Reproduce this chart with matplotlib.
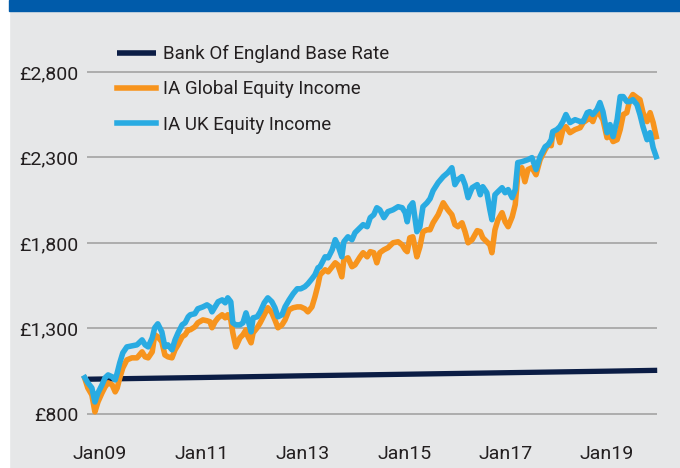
import matplotlib
matplotlib.use('Agg')
import matplotlib.pyplot as plt
from matplotlib.patches import Rectangle

plt.rcParams['font.family'] = ['Roboto', 'DejaVu Sans']

# growth of £1,000
years = [2008.70, 2008.76, 2008.84, 2008.90, 2008.96, 2009.04, 2009.10, 2009.16, 2009.24, 2009.30,
         2009.34, 2009.39, 2009.45, 2009.53, 2009.63, 2009.73, 2009.83, 2009.89, 2009.95, 2010.03,
         2010.08, 2010.14, 2010.22, 2010.28, 2010.34, 2010.42, 2010.48, 2010.54, 2010.62, 2010.68,
         2010.74,
         2010.78, 2010.87, 2010.93, 2011.03, 2011.11, 2011.17, 2011.21, 2011.27, 2011.33, 2011.41,
         2011.47, 2011.52, 2011.58, 2011.62, 2011.68, 2011.76, 2011.82, 2011.88, 2011.92, 2011.98,
         2012.02, 2012.10, 2012.16, 2012.24, 2012.31, 2012.39, 2012.45, 2012.51, 2012.59, 2012.65,
         2012.73, 2012.81, 2012.89, 2012.96, 2013.04, 2013.10, 2013.18, 2013.24, 2013.30,
         2013.34, 2013.44, 2013.50, 2013.58, 2013.64, 2013.69, 2013.77, 2013.81, 2013.89, 2013.97,
         2014.03, 2014.13, 2014.19, 2014.27, 2014.33, 2014.40, 2014.46, 2014.52, 2014.60, 2014.68,
         2014.78, 2014.88, 2014.96, 2015.02, 2015.06, 2015.11, 2015.17, 2015.25, 2015.31, 2015.37,
         2015.45,
         2015.51, 2015.57, 2015.67, 2015.77, 2015.86, 2015.94, 2016.00, 2016.06, 2016.14, 2016.20,
         2016.26, 2016.34, 2016.44, 2016.50, 2016.55, 2016.63, 2016.69, 2016.73, 2016.79, 2016.85,
         2016.93, 2016.99, 2017.05, 2017.13, 2017.19, 2017.24, 2017.32, 2017.38, 2017.44, 2017.52,
         2017.60, 2017.68, 2017.78, 2017.84,
         2017.90, 2017.93, 2018.01, 2018.07, 2018.13, 2018.19, 2018.27, 2018.37, 2018.47, 2018.53,
         2018.61, 2018.66, 2018.72, 2018.80, 2018.86, 2018.92, 2019.00, 2019.06, 2019.12, 2019.20,
         2019.26, 2019.32, 2019.39, 2019.45, 2019.51, 2019.59, 2019.65, 2019.71, 2019.79, 2019.85,
         2019.91, 2019.97]

uk_income = [1012, 982, 952, 870, 923, 970, 1011, 1028, 1017, 999,
             1040, 1099, 1157, 1192, 1198, 1204, 1233, 1204, 1192, 1245,
             1304, 1327, 1280, 1192, 1204, 1175, 1233, 1274, 1321, 1333,
             1368,
             1380, 1386, 1415, 1426, 1438, 1426, 1397, 1426, 1456, 1467,
             1450, 1479, 1456, 1333, 1321, 1321, 1333, 1391, 1350, 1280,
             1362, 1368, 1397, 1450, 1479, 1456, 1421, 1368, 1380, 1426,
             1467, 1503, 1532, 1532, 1544, 1561, 1590, 1614, 1655,
             1661, 1719, 1713, 1760, 1819, 1789, 1719, 1807, 1836, 1819,
             1860, 1889, 1907, 1895, 1948, 1965, 2006, 1994, 1948, 1983,
             1994, 2012, 2006, 1977, 1924, 2012, 2035, 1866, 1895, 2012,
             2035,
             2059, 2106, 2153, 2188, 2211, 2240, 2141, 2170, 2188, 2141,
             2065, 2123, 2141, 2082, 2129, 2094, 1994, 1936, 2082, 2100,
             2123, 2094, 2112, 2065, 2112, 2270, 2275, 2281, 2287, 2299,
             2229, 2305, 2363, 2375,
             2404, 2451, 2463, 2480, 2510, 2551, 2504, 2521, 2510, 2510,
             2562, 2568, 2551, 2580, 2621, 2568, 2445, 2492, 2422, 2521,
             2656, 2656, 2627, 2627, 2638, 2609, 2551, 2480, 2404, 2445,
             2357, 2305]

global_income = [1008, 952, 911, 812, 870, 923, 958, 982, 970, 929,
                 952, 1011, 1069, 1116, 1128, 1128, 1163, 1134, 1128, 1163,
                 1263, 1251, 1222, 1145, 1134, 1128, 1175, 1204, 1251, 1263,
                 1292,
                 1292, 1309, 1333, 1350, 1345, 1339, 1304, 1339, 1362, 1380,
                 1362, 1380, 1350, 1274, 1192, 1245, 1263, 1292, 1251, 1216,
                 1274, 1304, 1333, 1380, 1421, 1391, 1350, 1304, 1321, 1350,
                 1409, 1421, 1426, 1426, 1415, 1397, 1426, 1485, 1555,
                 1614, 1643, 1631, 1661, 1684, 1672, 1602, 1702, 1713, 1661,
                 1672, 1719, 1743, 1719, 1749, 1743, 1684, 1743, 1760, 1772,
                 1801, 1807, 1789, 1760, 1749, 1830, 1836, 1719, 1778, 1866,
                 1877,
                 1877, 1918, 1965, 2035, 1994, 1965, 1907, 1895, 1918, 1866,
                 1801, 1819, 1872, 1866, 1830, 1807, 1789, 1743, 1877, 1936,
                 1977, 1924, 1895, 1953, 2024, 2199, 2240, 2158, 2229, 2240,
                 2199, 2287, 2346, 2375,
                 2369, 2445, 2451, 2387, 2463, 2480, 2445, 2463, 2474, 2504,
                 2521, 2533, 2510, 2574, 2551, 2521, 2416, 2434, 2393, 2404,
                 2463, 2551, 2562, 2638, 2668, 2650, 2638, 2562, 2510, 2562,
                 2504, 2422]

boe_years = [2008.76, 2011.0, 2013.0, 2015.0, 2017.0, 2019.0, 2019.99]
boe_rate = [1003, 1013, 1023, 1032, 1041, 1050, 1055]

y_ticks = [800, 1300, 1800, 2300, 2800]
x_ticks = [2009, 2011, 2013, 2015, 2017, 2019]
x_labels = ['Jan09', 'Jan11', 'Jan13', 'Jan15', 'Jan17', 'Jan19']

bg = '#e6e7e8'
navy = '#0b1d45'
orange = '#f7941d'
blue = '#29abe2'
text_col = '#231f20'

W, H = 680, 468
fig = plt.figure(figsize=(W / 100, H / 100), dpi=100, facecolor=bg)
# white strip on the left and blue band on top
fig.add_artist(Rectangle((0, 0), 9 / W, 1, transform=fig.transFigure, color='white', zorder=0))
fig.add_artist(Rectangle((9 / W, 1 - 11 / H), 1, 11 / H, transform=fig.transFigure,
                         color='#005baa', zorder=0))

ax = fig.add_axes([87 / W, (H - 430) / H, 570 / W, 390 / H])
ax.set_facecolor(bg)
ax.set_xlim(2008.744, 2019.986)
ax.set_ylim(706, 2987)

ax.plot(boe_years, boe_rate, color=navy, lw=3.8, solid_capstyle='butt',
        label='Bank Of England Base Rate', zorder=3, clip_on=False)
ax.plot(years, global_income, color=orange, lw=4, solid_joinstyle='round',
        label='IA Global Equity Income', zorder=4, clip_on=False)
ax.plot(years, uk_income, color=blue, lw=4, solid_joinstyle='round',
        label='IA UK Equity Income', zorder=5, clip_on=False)

ax.set_yticks(y_ticks)
ax.set_yticklabels(['£{:,}'.format(v) for v in y_ticks])
ax.set_xticks(x_ticks)
ax.set_xticklabels(x_labels)
ax.grid(axis='y', color='#9d9d9d', lw=1.1, zorder=1)
ax.set_axisbelow(True)
for s in ax.spines.values():
    s.set_visible(False)
ax.tick_params(axis='y', length=0, pad=6, labelsize=14, labelcolor=text_col)
ax.tick_params(axis='x', length=0, pad=11, labelsize=14, labelcolor=text_col)

leg = fig.legend(loc='upper left', bbox_to_anchor=(117 / W, 1 - 45 / H), frameon=False,
                 fontsize=13.5, handlelength=2.1, handletextpad=0.33, labelspacing=0.92,
                 borderpad=0, borderaxespad=0)
for t in leg.get_texts():
    t.set_color(text_col)
for l in leg.get_lines():
    l.set_linewidth(4)

fig.savefig('out.png', dpi=100, facecolor=bg)
